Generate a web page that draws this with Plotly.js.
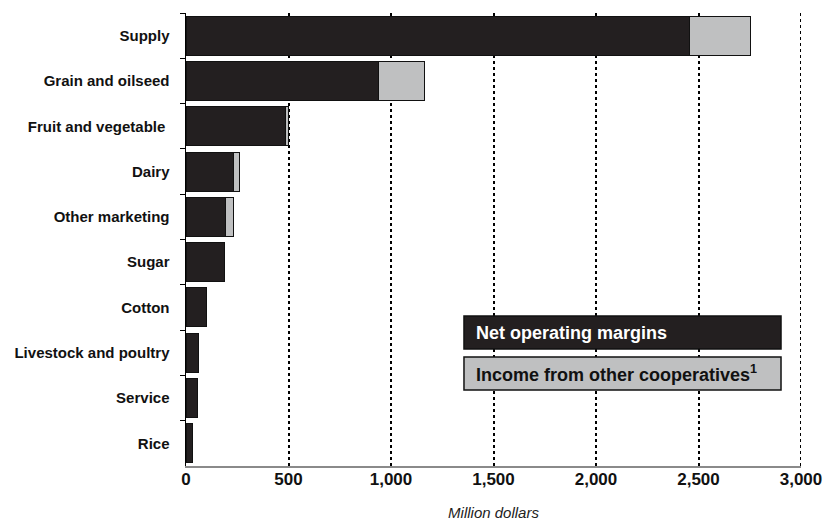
<!DOCTYPE html>
<html>
<head>
<meta charset="utf-8">
<script src="https://cdn.plot.ly/plotly-3.0.1.min.js"></script>
<style>html,body{margin:0;padding:0;background:#fff;}#chart{width:825px;height:523px;}</style>
</head>
<body>
<div id="chart"></div>
<script>
var categories = ["Supply", "Grain and oilseed", "Fruit and vegetable ", "Dairy", "Other marketing", "Sugar", "Cotton", "Livestock and poultry", "Service", "Rice"];
var netMargins = [2455, 938, 484, 230, 193, 188, 101, 60, 55, 34];
var otherIncome = [300, 225, 16, 30, 40, 0, 0, 0, 0, 0];
var tickVals = [0, 500, 1000, 1500, 2000, 2500, 3000];
var tickText = ["0", "500", "1,000", "1,500", "2,000", "2,500", "3,000"];
var legendNames = ["Net operating margins", "Income from other cooperatives<sup>1</sup>"];

var FONT = "Liberation Sans, Arial, sans-serif";

var traces = [
  {type: "bar", orientation: "h", y: categories, x: netMargins, name: legendNames[0],
   marker: {color: "#231f20", line: {color: "#111111", width: 1}}},
  {type: "bar", orientation: "h", y: categories, x: otherIncome, name: legendNames[1],
   marker: {color: "#bfc0c1", line: {color: "#111111", width: 1}}}
];

// legend boxes drawn as shapes + text annotations (paper coords)
var boxColors = ["#231f20", "#bfc0c1"];
var textColors = ["#ffffff", "#111111"];
var boxY = [[0.2583, 0.3311], [0.1678, 0.2406]];
var shapes = [], annotations = [];
for (var i = 0; i < 2; i++) {
  shapes.push({type: "rect", xref: "paper", yref: "paper", x0: 0.452, x1: 0.9675,
    y0: boxY[i][0], y1: boxY[i][1], fillcolor: boxColors[i], line: {color: "#111111", width: 1.5}, layer: "above"});
  annotations.push({xref: "paper", yref: "paper", x: 0.4683, y: (boxY[i][0] + boxY[i][1]) / 2,
    xanchor: "left", yanchor: "middle", showarrow: false, text: legendNames[i],
    font: {family: FONT, size: 18, color: textColors[i], weight: "bold"}});
}
// last vertical dotted gridline at the right edge of the axis range
shapes.push({type: "line", xref: "x", yref: "paper", x0: tickVals[tickVals.length - 1], x1: tickVals[tickVals.length - 1],
  y0: 0, y1: 1, line: {color: "#000000", width: 2, dash: "dot"}, layer: "below"});

var layout = {
  width: 825, height: 523,
  margin: {l: 186, r: 24, t: 13, b: 57},
  paper_bgcolor: "#ffffff", plot_bgcolor: "#ffffff",
  barmode: "stack", bargap: 0.14,
  showlegend: false,
  font: {family: FONT, color: "#111111"},
  xaxis: {
    range: [0, 3000], tickvals: tickVals, ticktext: tickText,
    showgrid: true, gridcolor: "#000000", griddash: "dot", gridwidth: 2,
    zeroline: false, showline: true, linecolor: "#8a8a8a", linewidth: 2,
    ticks: "", tickfont: {family: FONT, size: 17, color: "#111111", weight: "bold"},
    ticklabelstandoff: -3,
    title: {text: "Million dollars", font: {family: FONT, size: 15, color: "#222222", style: "italic"}, standoff: 19},
    fixedrange: true
  },
  yaxis: {
    type: "category", autorange: "reversed",
    showline: true, linecolor: "#000000", linewidth: 1.5,
    ticks: "outside", tickson: "boundaries", ticklen: 5, tickcolor: "#000000",
    showgrid: false, zeroline: false,
    tickfont: {family: FONT, size: 15, color: "#111111", weight: "bold"},
    ticklabelstandoff: 12,
    fixedrange: true
  },
  shapes: shapes,
  annotations: annotations
};

Plotly.newPlot("chart", traces, layout, {displayModeBar: false, staticPlot: true});
</script>
</body>
</html>
